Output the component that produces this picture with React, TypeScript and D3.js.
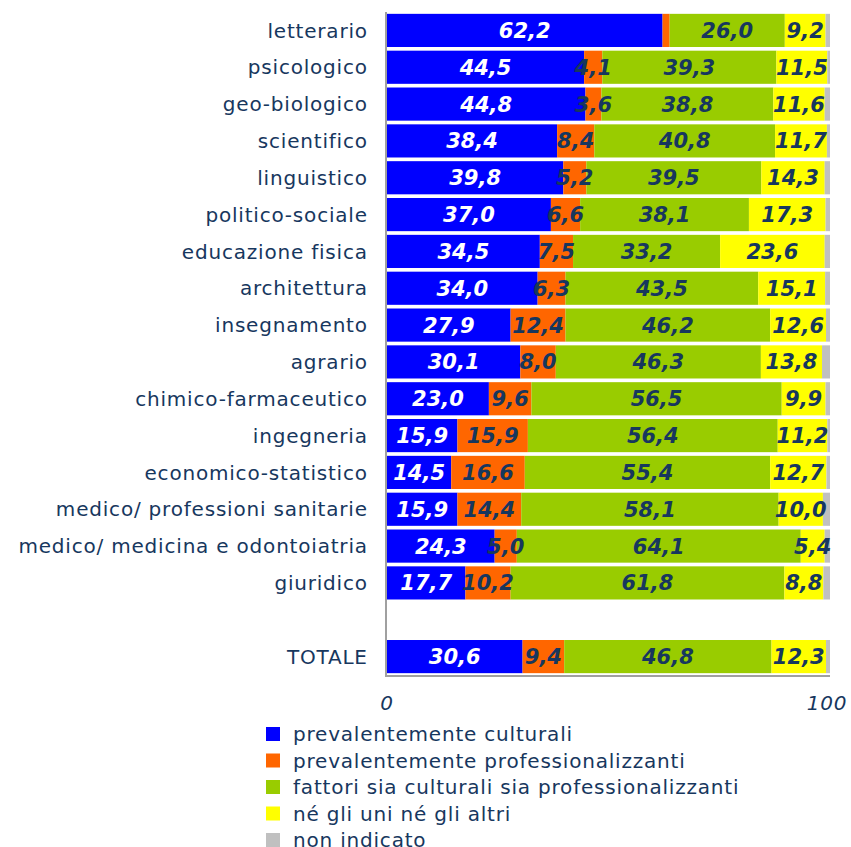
import React from "react";
import * as d3 from "d3";

const categories = [
  "letterario",
  "psicologico",
  "geo-biologico",
  "scientifico",
  "linguistico",
  "politico-sociale",
  "educazione fisica",
  "architettura",
  "insegnamento",
  "agrario",
  "chimico-farmaceutico",
  "ingegneria",
  "economico-statistico",
  "medico/ professioni sanitarie",
  "medico/ medicina e odontoiatria",
  "giuridico",
  "",
  "TOTALE",
];

const culturali = [62.2, 44.5, 44.8, 38.4, 39.8, 37.0, 34.5, 34.0, 27.9, 30.1, 23.0, 15.9, 14.5, 15.9, 24.3, 17.7, 0, 30.6];
const professionalizzanti = [1.6, 4.1, 3.6, 8.4, 5.2, 6.6, 7.5, 6.3, 12.4, 8.0, 9.6, 15.9, 16.6, 14.4, 5.0, 10.2, 0, 9.4];
const entrambi = [26.0, 39.3, 38.8, 40.8, 39.5, 38.1, 33.2, 43.5, 46.2, 46.3, 56.5, 56.4, 55.4, 58.1, 64.1, 61.8, 0, 46.8];
const nessuno = [9.2, 11.5, 11.6, 11.7, 14.3, 17.3, 23.6, 15.1, 12.6, 13.8, 9.9, 11.2, 12.7, 10.0, 5.4, 8.8, 0, 12.3];
const nonIndicato = [1.0, 0.6, 1.2, 0.7, 1.2, 1.0, 1.2, 1.1, 0.9, 1.8, 1.0, 0.6, 0.8, 1.6, 1.2, 1.5, 0, 0.9];

const seriesNames = [
  "prevalentemente culturali",
  "prevalentemente professionalizzanti",
  "fattori sia culturali sia professionalizzanti",
  "né gli uni né gli altri",
  "non indicato",
];
const seriesColors = ["#0000FF", "#FF6600", "#99CC00", "#FFFF00", "#C0C0C0"];
const xTicks = [0, 100];

const W = 851;
const H = 847;
const M = { left: 387, right: 830, top: 12, bottom: 675 };
const TEXT = "#17375E";
const FONT = "'DejaVu Sans', Verdana, sans-serif";
const LS = 0.8;

export default function App() {
  const allSeries = [culturali, professionalizzanti, entrambi, nessuno, nonIndicato];
  const rows = categories.map((c, i) => {
    const r: any = { cat: c, idx: i };
    allSeries.forEach((s, k) => (r["s" + k] = s[i]));
    return r;
  });
  const keys = allSeries.map((_, k) => "s" + k);
  const stacked = d3.stack().keys(keys)(rows);

  const x = d3.scaleLinear().domain([0, 100]).range([M.left, M.right]);
  const y = d3
    .scaleBand<string>()
    .domain(categories.map((_, i) => String(i)))
    .range([M.top, M.bottom])
    .paddingInner(0.1)
    .paddingOuter(0.05);

  const fmt = (v: number) => v.toFixed(1).replace(".", ",");

  return (
    <svg
      width={W}
      height={H}
      style={{ position: "absolute", left: 0, top: 0, display: "block", background: "#fff" }}
      fontFamily={FONT}
    >
      {stacked.map((layer, k) => (
        <g key={k} fill={seriesColors[k]}>
          {layer.map((d, i) =>
            categories[i] === "" ? null : (
              <rect
                key={i}
                x={x(d[0])}
                y={y(String(i))}
                width={Math.max(0, x(d[1]) - x(d[0]))}
                height={y.bandwidth()}
              />
            )
          )}
        </g>
      ))}
      {stacked.map((layer, k) =>
        k === 4
          ? null
          : layer.map((d, i) => {
              const v = d[1] - d[0];
              if (categories[i] === "" || v < 2) return null;
              return (
                <text
                  key={k + "-" + i}
                  x={(x(d[0]) + x(d[1])) / 2}
                  y={(y(String(i)) as number) + y.bandwidth() / 2}
                  dy="0.36em"
                  textAnchor="middle"
                  fontSize={21}
                  fontWeight="bold"
                  fontStyle="italic"
                  fill={k === 0 ? "#FFFFFF" : TEXT}
                >
                  {fmt(v)}
                </text>
              );
            })
      )}
      {categories.map((c, i) => (
        <text
          key={"c" + i}
          x={367 + LS}
          y={(y(String(i)) as number) + y.bandwidth() / 2}
          dy="0.36em"
          textAnchor="end"
          fontSize={20}
          letterSpacing={LS}
          fill={TEXT}
        >
          {c}
        </text>
      ))}
      <line x1={M.left - 1} x2={M.left - 1} y1={M.top} y2={M.bottom + 1} stroke="#A0A0A0" strokeWidth={2} />
      <line x1={M.left - 2} x2={M.right} y1={M.bottom + 1} y2={M.bottom + 1} stroke="#A0A0A0" strokeWidth={2} />
      {xTicks.map((t) => (
        <text
          key={"t" + t}
          x={x(t) - (t === 100 ? 3 : 0)}
          y={703}
          dy="0.36em"
          textAnchor="middle"
          fontSize={20}
          letterSpacing={LS}
          fontStyle="italic"
          fill={TEXT}
        >
          {t}
        </text>
      ))}
      {seriesNames.map((n, k) => (
        <g key={"l" + k} transform={`translate(266, ${734 + k * 26.5})`}>
          <rect x={0} y={-7} width={14} height={14} fill={seriesColors[k]} />
          <text x={27} y={0} dy="0.36em" fontSize={20} letterSpacing={LS} fill={TEXT}>
            {n}
          </text>
        </g>
      ))}
    </svg>
  );
}
